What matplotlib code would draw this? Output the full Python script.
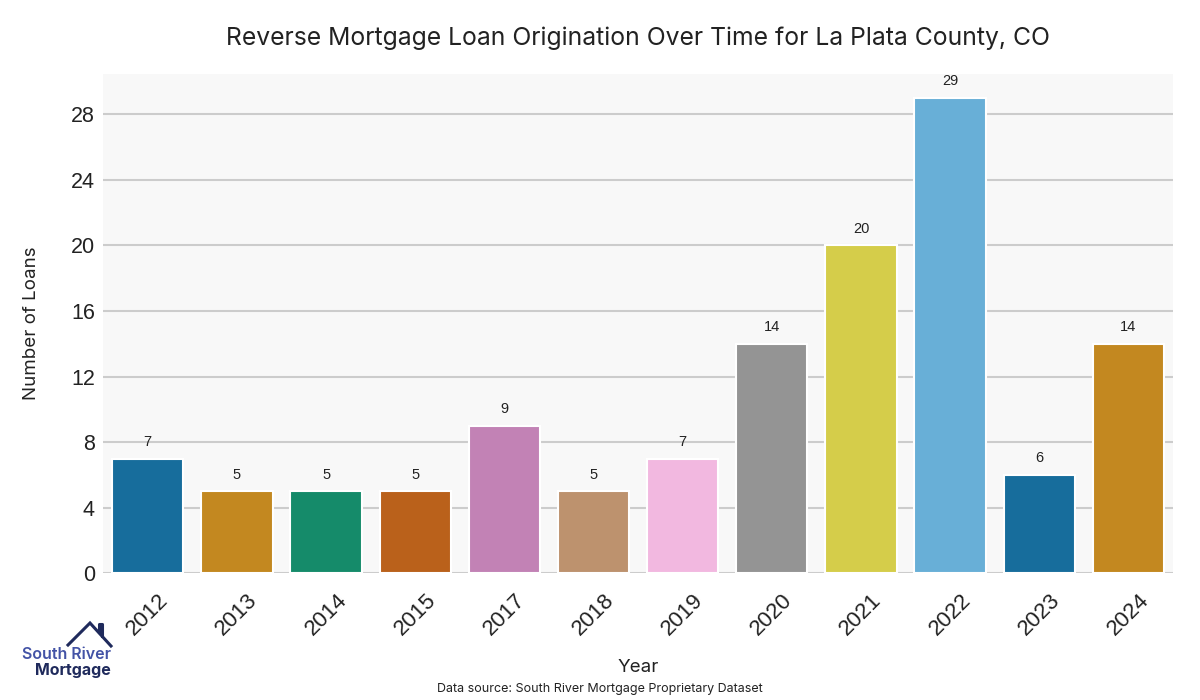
import numpy as np
import matplotlib
matplotlib.use('Agg')
import matplotlib.pyplot as plt
from matplotlib.lines import Line2D
import seaborn as sns

years = ['2012', '2013', '2014', '2015', '2017', '2018', '2019', '2020', '2021', '2022', '2023', '2024']
loans = [7, 5, 5, 5, 9, 5, 7, 14, 20, 29, 6, 14]
palette_idx = [0, 1, 2, 3, 4, 5, 6, 7, 8, 9, 0, 1]

base = sns.color_palette('colorblind')
colors = [sns.desaturate(base[i], 0.75) for i in palette_idx]

fig = plt.figure(figsize=(12, 7), dpi=100)
ax = fig.add_axes([0.086, 0.181, 0.8915, 0.713])
ax.set_facecolor('#f8f8f8')

x = np.arange(len(years))
ax.bar(x, loans, width=0.8, color=colors, edgecolor='white', linewidth=1.5, zorder=3)
for xi, v in zip(x, loans):
    ax.text(xi, v + 0.6, str(v), ha='center', va='bottom', fontsize=10.5,
            family='Liberation Sans', color='#222222')

ax.set_xlim(-0.5, len(years) - 0.5)
ax.set_ylim(0, 30.45)
ax.set_yticks(np.arange(0, 29, 4))
ax.set_xticks(x)
ax.set_xticklabels(years, rotation=45, family='Liberation Sans', fontsize=16, color='#222222')
for lab in ax.get_yticklabels():
    lab.set_family('Liberation Sans')
    lab.set_fontsize(15.5)
    lab.set_color('#222222')
ax.tick_params(axis='y', length=0, pad=6)
ax.tick_params(axis='x', length=0, pad=12)
ax.grid(axis='y', color='#cccccc', linewidth=1.5, zorder=1)
ax.set_axisbelow(True)
for s in ax.spines.values():
    s.set_visible(False)

ax.set_xlabel('Year', family='Inter', fontsize=13.5, color='#222222', labelpad=14)
ax.set_ylabel('Number of Loans', family='Inter', fontsize=13.5, color='#222222', labelpad=22)
fig.text(0.532, 0.945, 'Reverse Mortgage Loan Origination Over Time for La Plata County, CO',
         ha='center', va='center', family='Inter', fontsize=17.8, color='#222222')
fig.text(0.5, 0.016, 'Data source: South River Mortgage Proprietary Dataset',
         ha='center', va='center', family='Inter', fontsize=9, color='#222222')

# logo
fig.text(0.0925, 0.065, 'South River', ha='right', va='center', family='Inter',
         fontsize=11.5, fontweight='semibold', color='#4353a6')
fig.text(0.0925, 0.042, 'Mortgage', ha='right', va='center', family='Inter',
         fontsize=11.5, fontweight='bold', color='#1f2a5c')
roof_x = [68, 90, 111]
roof_y = [645, 623, 646]
fig.add_artist(Line2D([p / 1200 for p in roof_x], [1 - p / 700 for p in roof_y],
                      color='#1f2a5c', linewidth=2.2, solid_joinstyle='miter'))
fig.add_artist(Line2D([99 / 1200, 99 / 1200, 102 / 1200, 102 / 1200],
                      [1 - 632 / 700, 1 - 624 / 700, 1 - 624 / 700, 1 - 636 / 700],
                      color='#1f2a5c', linewidth=2.2))

fig.savefig('out.png', dpi=100)
